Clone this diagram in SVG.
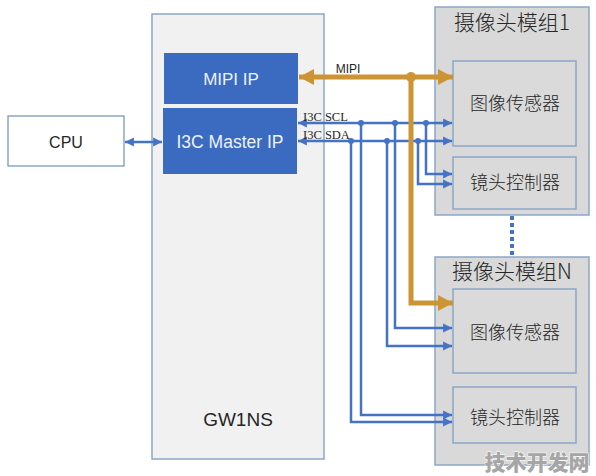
<svg xmlns="http://www.w3.org/2000/svg" width="596" height="476" viewBox="0 0 596 476">
<style>
.sans{font-family:"Liberation Sans","Noto Sans","Noto Sans CJK SC",sans-serif}
.cjk{font-family:"Noto Sans CJK SC","Noto Sans",sans-serif;font-weight:300}
.serif{font-family:"Liberation Serif","Noto Sans CJK SC",serif}
.ipbox{fill:#3A6BC1}
.iptxt{fill:#EEF2FA;font-size:17px;text-anchor:middle}
.mod{fill:#D9D9D9;stroke:#8CA6C8;stroke-width:1.5}
.sub{fill:#DADADA;stroke:#8CA6C8;stroke-width:1.5}
.dark{fill:#262626;text-anchor:middle}
.bl{fill:none;stroke:#4472C4;stroke-width:2.5}
.or{fill:none;stroke:#CC9433;stroke-width:5}
</style>
<defs>
<marker id="oa" markerUnits="userSpaceOnUse" markerWidth="16" markerHeight="18" refX="15" refY="8" orient="auto-start-reverse" viewBox="0 0 16 16">
<path d="M0,0 L15,8 L0,16 z" fill="#CC9433"/>
</marker>
<marker id="ba" markerUnits="userSpaceOnUse" markerWidth="10" markerHeight="10" refX="8" refY="4" orient="auto-start-reverse" viewBox="0 0 9 8">
<path d="M0,0 L8,4 L0,8 z" fill="#4472C4"/>
</marker>
</defs>
<rect width="596" height="476" fill="#FFFFFF"/>

<g id="gw1ns">
<rect x="152" y="14" width="172" height="445" fill="#F1F1F1" stroke="#8CA6C8" stroke-width="1.5"/>
<text class="sans dark" x="238" y="426" font-size="19">GW1NS</text>
</g>
<g id="cpu">
<rect x="8" y="116" width="116" height="50" fill="#FFFFFF" stroke="#6F8FB8" stroke-width="1.2"/>
<text class="sans dark" x="66" y="148" font-size="16">CPU</text>
</g>
<g id="mipi-ip">
<rect class="ipbox" x="164" y="53" width="134" height="51"/>
<text class="sans iptxt" x="231" y="85">MIPI IP</text>
</g>
<g id="i3c-master-ip">
<rect class="ipbox" x="163" y="108" width="134" height="66"/>
<text class="sans iptxt" x="230" y="148" style="font-size:17.5px">I3C Master IP</text>
</g>

<g id="module1">
<rect class="mod" x="435" y="7" width="154" height="208"/>
<text class="cjk dark" x="512" y="30" font-size="21">摄像头模组1</text>
</g>
<g id="sensor1">
<rect class="sub" x="453" y="61" width="123" height="85"/>
<text class="cjk dark" x="515" y="110" font-size="18">图像传感器</text>
</g>
<g id="lens1">
<rect class="sub" x="453" y="157" width="123" height="52"/>
<text class="cjk dark" x="515" y="189" font-size="18">镜头控制器</text>
</g>

<g id="moduleN">
<rect class="mod" x="435" y="257" width="154" height="208"/>
<text class="cjk dark" x="512" y="279" font-size="21">摄像头模组N</text>
</g>
<g id="sensorN">
<rect class="sub" x="453" y="289" width="123" height="84"/>
<text class="cjk dark" x="515" y="339" font-size="18">图像传感器</text>
</g>
<g id="lensN">
<rect class="sub" x="453" y="387" width="123" height="56"/>
<text class="cjk dark" x="515" y="424" font-size="18">镜头控制器</text>
</g>

<g id="connectors">
<line class="bl" x1="125" y1="142" x2="162" y2="142" marker-start="url(#ba)" marker-end="url(#ba)" stroke-width="2.2"/>
<line class="bl" x1="298" y1="123" x2="452" y2="123" marker-start="url(#ba)" marker-end="url(#ba)"/>
<line class="bl" x1="298" y1="141" x2="452" y2="141" marker-start="url(#ba)" marker-end="url(#ba)"/>
<polyline class="bl" points="426,123 426,174 452,174" marker-end="url(#ba)"/>
<polyline class="bl" points="418,141 418,184 452,184" marker-end="url(#ba)"/>
<polyline class="bl" points="395,123 395,328 452,328" marker-end="url(#ba)"/>
<polyline class="bl" points="387,141 387,346 452,346" marker-end="url(#ba)"/>
<polyline class="bl" points="361,123 361,415 452,415" marker-end="url(#ba)"/>
<polyline class="bl" points="351,141 351,422 452,422" marker-end="url(#ba)"/>
<g fill="#4472C4">
<circle cx="361" cy="123" r="3"/>
<circle cx="395" cy="123" r="3"/>
<circle cx="426" cy="123" r="3"/>
<circle cx="351" cy="141" r="3"/>
<circle cx="387" cy="141" r="3"/>
<circle cx="418" cy="141" r="3"/>
</g>
<line class="or" x1="299" y1="77" x2="453" y2="77" marker-start="url(#oa)" marker-end="url(#oa)"/>
<polyline class="or" points="411,77 411,303 453,303" marker-end="url(#oa)"/>
<circle cx="411" cy="77" r="5" fill="#CC9433"/>
<line x1="512" y1="216" x2="512" y2="256" stroke="#4472C4" stroke-width="4" stroke-dasharray="4 3"/>
<text class="sans" x="348" y="73" font-size="12" fill="#262626" text-anchor="middle">MIPI</text>
<text class="serif" x="303" y="121" font-size="12.5" fill="#262626">I3C SCL</text>
<text class="serif" x="303" y="139" font-size="12.5" fill="#262626">I3C SDA</text>
</g>

<text x="537" y="470" font-family="Noto Sans CJK SC,sans-serif" font-size="21" font-weight="900" fill="#A6A6A6" stroke="#FFFFFF" stroke-width="1" paint-order="stroke" text-anchor="middle">技术开发网</text>
</svg>
